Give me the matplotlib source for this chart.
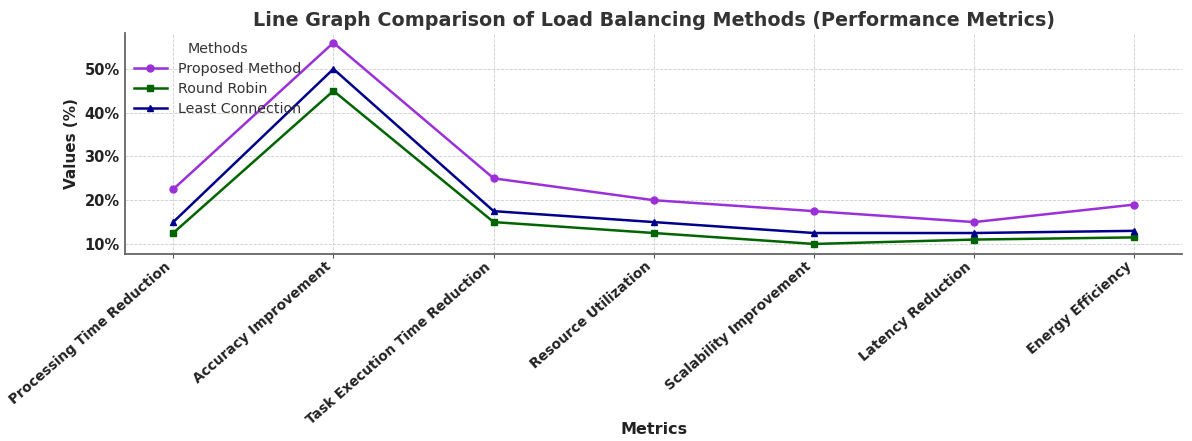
import matplotlib
matplotlib.use("Agg")
import matplotlib.pyplot as plt
from matplotlib.ticker import FuncFormatter

categories = ["Processing Time Reduction", "Accuracy Improvement", "Task Execution Time Reduction",
              "Resource Utilization", "Scalability Improvement", "Latency Reduction", "Energy Efficiency"]
proposed = [22.5, 56, 25, 20, 17.5, 15, 19]
round_robin = [12.5, 45, 15, 12.5, 10, 11, 11.5]
least_conn = [15, 50, 17.5, 15, 12.5, 12.5, 13]

plt.rcParams['font.family'] = ['DejaVu Sans']
fig = plt.figure(figsize=(11.92, 4.41), dpi=100)
ax = fig.add_axes([0.105, 0.424, 0.887, 0.501])

x = list(range(len(categories)))
ax.plot(x, proposed, color='#9b30d9', marker='o', markersize=5, linewidth=1.8, label='Proposed Method')
ax.plot(x, round_robin, color='#006400', marker='s', markersize=5, linewidth=1.8, label='Round Robin')
ax.plot(x, least_conn, color='#00008b', marker='^', markersize=5, linewidth=1.8, label='Least Connection')

ax.set_xlim(-0.3, 6.3)
ax.set_ylim(7.7, 58.2)
ax.set_yticks([10, 20, 30, 40, 50])
ax.yaxis.set_major_formatter(FuncFormatter(lambda v, p: f"{int(v)}%"))
ax.set_xticks(x)
ax.set_xticklabels(categories, rotation=41, ha='right', rotation_mode='default',
                   fontweight='bold', fontsize=9.8, color='#222222')
for lbl in ax.get_yticklabels():
    lbl.set_fontweight('bold')
    lbl.set_fontsize(10.5)
    lbl.set_color('#222222')
ax.tick_params(axis='y', length=0, pad=4)
ax.tick_params(axis='x', length=3, color='#555555', pad=1)

ax.grid(True, linestyle='--', linewidth=0.6, color='#cccccc')
ax.set_axisbelow(True)
for s in ['top', 'right']:
    ax.spines[s].set_visible(False)
for s in ['left', 'bottom']:
    ax.spines[s].set_color('#666666')
    ax.spines[s].set_linewidth(1.3)

ax.set_title("Line Graph Comparison of Load Balancing Methods (Performance Metrics)",
             fontsize=13.8, fontweight='bold', color='#333333', pad=5)
ax.set_ylabel("Values (%)", fontsize=11, fontweight='bold', color='#222222')
ax.set_xlabel("Metrics", fontsize=11.5, fontweight='bold', color='#222222')
ax.xaxis.label.set_va('center')
ax.xaxis.set_label_coords(0.5, -0.795)

leg = ax.legend(title='Methods', loc='upper left', frameon=False, fontsize=10.3,
                title_fontsize=10.3, borderaxespad=0.3, handlelength=2.3, labelspacing=0.42,
                borderpad=0.3)
for t in leg.get_texts():
    t.set_color('#333333')
leg.get_title().set_color('#333333')

fig.savefig('out.png', dpi=100)
